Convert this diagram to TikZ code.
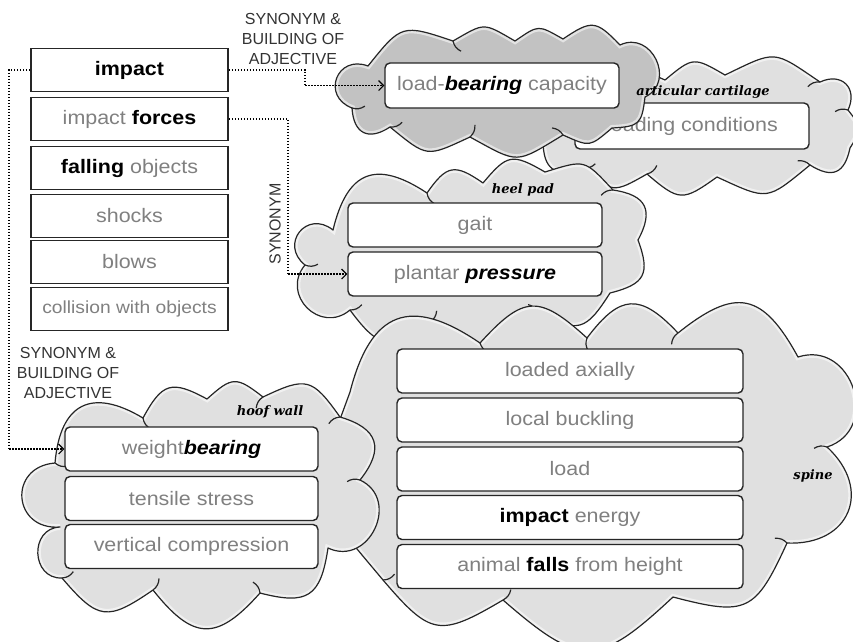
\documentclass[tikz,border=0pt]{standalone}
\usepackage{fontspec}
\setmainfont{Liberation Sans}
\newfontfamily\boxfont{Liberation Sans}[FakeStretch=1.1]
\newfontfamily\cloudfont{DejaVu Serif}
\usetikzlibrary{arrows.meta,calc}
\definecolor{txtgray}{gray}{0.5}
\definecolor{cloudlight}{gray}{0.88}
\definecolor{clouddark}{gray}{0.76}
\newcommand\toppath{(368,66) to[pf=35] (453,41) to[pf=30] (515,41) to[pf=32] (563,39) to[pf=40] (620,45) to[pf=90] (645,97) to[pf=40] (612,128) to[pf=32] (563,135) to[pf=30] (470,137) to[pf=32] (390,127) to[pf=60] (352,108) to[bigpf] (368,66) -- cycle}
\newcommand\artpath{(567,108) to[pf=40] (665,80) to[pf=35] (725,75) to[pf=30] (820,82) to[pf=70] (848,110) to[pf=35] (850,148) to[pf=55] (810,165) to[pf=32] (717,177) to[pf=38] (647,174) to[pf=35] (583,168) to[pf=55] (543,140) to[pf=60] (567,108) -- cycle}
\newcommand\heelpath{(333,230) to[pf=55] (427,193) to[pf=45] (483,183) to[pf=40] (545,172) to[pf=32] (613,190) to[pf=55] (638,240) to[pf=48] (610,293) to[pf=42] (538,313) to[pf=48] (430,322) to[pf=45] (350,310) to[pf=85] (305,265) to[bigpf] (333,230) -- cycle}
\newcommand\spinepath{(350,392) to[pf=55] (480,343) to[pf=45] (587,338) to[pf=50] (678,333) to[pf=50] (798,357) to[pf=90] (827,447) to[pf=70] (787,543) to[pf=40] (673,597) to[pf=42] (503,600) to[pf=40] (383,580) to[pf=30] (350,392) -- cycle}
\newcommand\hoofpath{(55,463) to[pf=58] (143,418) to[pf=45] (207,399) to[pf=40] (263,397) to[pf=40] (340,417) to[pf=56] (360,480) to[pf=90] (328,548) to[pf=48] (260,593) to[pf=50] (153,590) to[pf=42] (62,578) to[pf=90] (60,527) to[bigpf] (55,463) -- cycle}
\newcommand\drawcloud[2]{%
  \fill[#2] #1;
  \begin{scope}\clip #1; \draw[white,line width=6pt,opacity=0.55] #1; \end{scope}
  \draw[cloudline] #1;}
\newcommand\crease[2]{\draw[cloudline] (#1) to[bend right=25] ($(#1)!13pt!(#2)$);}
\begin{document}
\begin{tikzpicture}[x=1pt,y=-1pt,
  pf/.style={bend left=#1,looseness=1.55}, pf/.default=60,
  bigpf/.style={bend left=90,looseness=1.9},
  cloudline/.style={draw=black!85,line width=1.2pt,line join=round},
  termbox/.style={rectangle,draw=black!85,line width=1.6pt,fill=white,
    minimum width=197pt,minimum height=43pt,inner sep=0pt,
    font=\boxfont\fontsize{19.5}{22}\selectfont,text=txtgray},
  cbox/.style={rectangle,rounded corners=5pt,draw=black!85,line width=1.4pt,fill=white,
    minimum height=44pt,inner sep=0pt,
    font=\boxfont\fontsize{19.5}{22}\selectfont,text=txtgray},
  cloudname/.style={font=\cloudfont\bfseries\itshape\fontsize{13}{15}\selectfont,text=black},
  rel/.style={font=\fontsize{16}{20}\selectfont,text=black!80,align=center},
  link/.style={draw=black,line width=1.5pt,dash pattern=on 1.5pt off 1.5pt},
  tip/.style={-{Straight Barb[length=5pt,width=10pt,line width=1.1pt]}}
]
\useasboundingbox (0,0) rectangle (853,641);

% left column of terms
\node[termbox] (impact) at (129.5,70) {\textcolor{black}{\textbf{impact}}};
\node[termbox] (forces) at (129.5,119) {impact \textcolor{black}{\textbf{forces}}};
\node[termbox] (falling) at (129.5,168) {\textcolor{black}{\textbf{falling}} objects};
\node[termbox] (shocks) at (129.5,216) {shocks};
\node[termbox] (blows) at (129.5,262) {blows};
\node[termbox,font=\boxfont\fontsize{17.5}{20}\selectfont] (collision) at (129.5,309) {collision with objects};

% articular cartilage cloud
\coordinate (ca) at (700,128);
\drawcloud{\artpath}{cloudlight}
\crease{820,82}{ca}\crease{848,110}{ca}\crease{810,165}{ca}\crease{647,174}{ca}\crease{583,168}{ca}
\node[cbox,minimum width=234pt,minimum height=46pt] (loading) at (692,126) {loading conditions};

% top cloud (load-bearing capacity)
\coordinate (ct) at (490,88);
\drawcloud{\toppath}{clouddark}
\crease{453,41}{ct}\crease{563,135}{ct}\crease{470,137}{ct}\crease{390,127}{ct}\crease{352,108}{ct}
\node[cbox,minimum width=234pt,minimum height=45pt] (lbc) at (502,85.5) {load-\textcolor{black}{\textbf{\textit{bearing}}} capacity};

% heel pad cloud
\coordinate (ch) at (470,255);
\drawcloud{\heelpath}{cloudlight}
\crease{427,193}{ch}\crease{613,190}{ch}\crease{538,313}{ch}\crease{430,322}{ch}\crease{350,310}{ch}\crease{305,265}{ch}
\node[cbox,minimum width=254pt] (gait) at (475,225) {gait};
\node[cbox,minimum width=254pt] (plantar) at (475,274) {plantar \textcolor{black}{\textbf{\textit{pressure}}}};

% spine cloud
\coordinate (cs) at (600,470);
\drawcloud{\spinepath}{cloudlight}
\crease{480,343}{cs}\crease{587,338}{cs}\crease{678,333}{cs}\crease{827,447}{cs}\crease{787,543}{cs}\crease{503,600}{cs}\crease{383,580}{cs}
\node[cbox,minimum width=346pt] (axially) at (570,371) {loaded axially};
\node[cbox,minimum width=346pt] (buckling) at (570,420) {local buckling};
\node[cbox,minimum width=346pt] (load) at (570,469) {load};
\node[cbox,minimum width=346pt] (energy) at (570,517.5) {\textcolor{black}{\textbf{impact}} energy};
\node[cbox,minimum width=346pt] (falls) at (570,566.5) {animal \textcolor{black}{\textbf{falls}} from height};

% hoof wall cloud
\coordinate (cw) at (200,500);
\drawcloud{\hoofpath}{cloudlight}
\crease{143,418}{cw}\crease{263,397}{cw}\crease{340,417}{cw}\crease{360,480}{cw}\crease{260,593}{cw}\crease{153,590}{cw}\crease{62,578}{cw}\crease{55,463}{cw}
\node[cbox,minimum width=253pt] (weight) at (191.5,449) {weight\textcolor{black}{\textbf{\textit{bearing}}}};
\node[cbox,minimum width=253pt] (tensile) at (191.5,498.5) {tensile stress};
\node[cbox,minimum width=253pt] (vertical) at (191.5,546.5) {vertical compression};

% cloud names
\node[cloudname] (nart) at (703,92) {articular cartilage};
\node[cloudname] (nheel) at (523,190) {heel pad};
\node[cloudname] (nspine) at (813,476) {spine};
\node[cloudname] (nhoof) at (270,412) {hoof wall};

% relation labels
\node[rel] (rtop) at (293,39) {SYNONYM \&\\BUILDING OF\\ADJECTIVE};
\node[rel] (rleft) at (68,373) {SYNONYM \&\\BUILDING OF\\ADJECTIVE};
\node[rel,rotate=90] (rsyn) at (275,224) {SYNONYM};

% connectors
\coordinate (a1) at (305,70);
\coordinate (a2) at (305,85.5);
\draw[link] (impact.east) -- (a1) -- (a2);
\draw[link,tip] (a2) -- (lbc.west);
\coordinate (b1) at (288,119);
\coordinate (b2) at (288,274);
\draw[link] (forces.east) -- (b1) -- (b2);
\draw[link,tip] (b2) -- (plantar.west);
\coordinate (c1) at (9,70);
\coordinate (c2) at (9,449);
\draw[link] (impact.west) -- (c1) -- (c2);
\draw[link,tip] (c2) -- (weight.west);
\end{tikzpicture}
\end{document}
